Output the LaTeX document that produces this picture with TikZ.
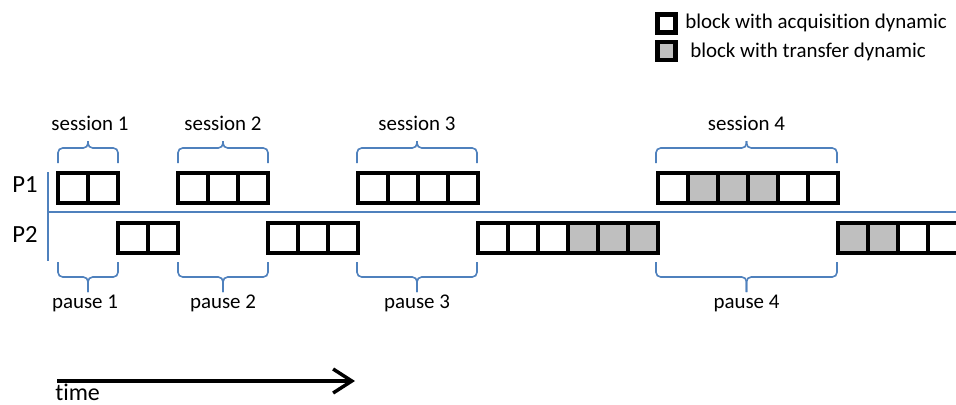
\documentclass[tikz,border=0pt]{standalone}
\usepackage{fontspec}
\setmainfont{Carlito}[Ligatures={NoCommon}]
\usetikzlibrary{arrows.meta}
\definecolor{offblue}{HTML}{4F81BD}
\definecolor{cellgray}{HTML}{BFBFBF}
\tikzset{
  cell/.style={draw=black, line width=3pt, minimum size=22.5pt, inner sep=0pt, fill=white},
  gcell/.style={cell, fill=cellgray},
  legcell/.style={draw=black, line width=3.6pt, minimum size=13.5pt, inner sep=0pt, fill=white},
  axis/.style={draw=offblue, line width=1.2pt},
  brace/.style={draw=offblue, line width=1.2pt, rounded corners=3.5pt},
  lbl/.style={font=\fontsize{15.7}{18}\selectfont, inner sep=0pt},
  plbl/.style={font=\fontsize{18.5}{21}\selectfont, inner sep=0pt},
}
\newcommand\upbrace[3]{% x1, x2, mid
  \draw[brace] (#1,163) -- (#1,148) -- (#3,148) -- (#3,141);
  \draw[brace] (#2,163) -- (#2,148) -- (#3,148) -- (#3,141);
}
\newcommand\downbrace[3]{%
  \draw[brace] (#1,262) -- (#1,277) -- (#3,277) -- (#3,292);
  \draw[brace] (#2,262) -- (#2,277) -- (#3,277) -- (#3,292);
}
\begin{document}
\begin{tikzpicture}[x=0.75pt,y=-0.75pt]
\clip (0,0) rectangle (956,404);
\fill[white] (0,0) rectangle (956,404);

% legend
\node[legcell] (lega) at (666.5,23.5) {};
\node[legcell, fill=cellgray] (legt) at (666.5,51) {};
\node[lbl, anchor=west] (legatext) at (685,23) {block with acquisition dynamic};
\node[lbl, anchor=west] (legttext) at (690,52) {block with transfer dynamic};

% axes
\coordinate (vtop) at (48,172);
\coordinate (vbot) at (48,261);
\coordinate (hleft) at (48,212);
\coordinate (hright) at (960,212);
\draw[axis] (vtop) -- (vbot);
\draw[axis] (hleft) -- (hright);

\node[plbl] (p1) at (25,185) {P1};
\node[plbl] (p2) at (25,234) {P2};

% P1 cells
\foreach \x in {73,103,193,223,253,373,403,433,463,673,793,823}
  \node[cell] at (\x,188) {};
\foreach \x in {703,733,763}
  \node[gcell] at (\x,188) {};
% P2 cells
\foreach \x in {133,163,283,313,343,493,523,553,913,943}
  \node[cell] at (\x,238) {};
\foreach \x in {583,613,643,853,883}
  \node[gcell] at (\x,238) {};

% braces
\upbrace{58}{118}{88}
\upbrace{178}{268}{223}
\upbrace{357}{477}{417}
\upbrace{656}{837}{746.5}
\downbrace{58}{118}{88}
\downbrace{178}{268}{223}
\downbrace{357}{477}{417}
\downbrace{656}{837}{746.5}

\node[lbl] (s1) at (90,123) {session 1};
\node[lbl] (s2) at (223,123) {session 2};
\node[lbl] (s3) at (417,123) {session 3};
\node[lbl] (s4) at (746.5,123) {session 4};
\node[lbl] (q1) at (85,303) {pause 1};
\node[lbl] (q2) at (223,303) {pause 2};
\node[lbl] (q3) at (417,303) {pause 3};
\node[lbl] (q4) at (746.5,303) {pause 4};

% time arrow
\coordinate (tstart) at (57,381);
\coordinate (tend) at (355,381);
\draw[line width=2.6pt, -{Straight Barb[length=14pt,width=18pt,line width=2.6pt]}] (tstart) -- (tend);
\node[font=\fontsize{18}{21}\selectfont, inner sep=0pt, anchor=base west] (time) at (55,400) {time};
\end{tikzpicture}
\end{document}
